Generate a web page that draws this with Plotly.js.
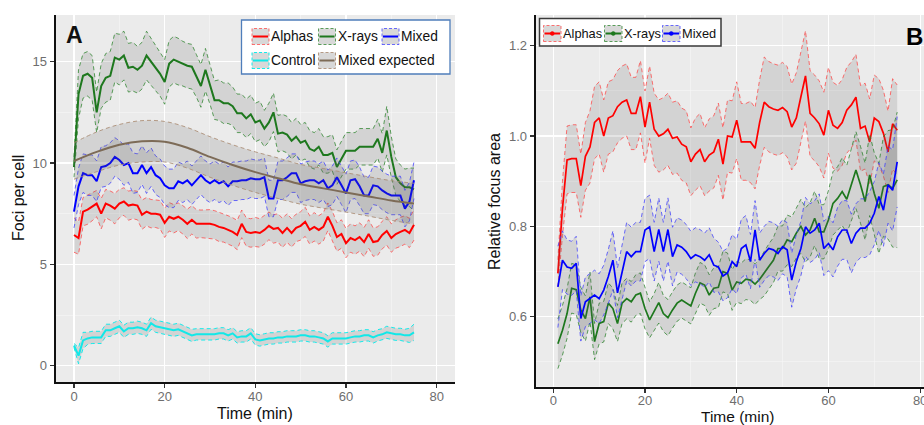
<!DOCTYPE html>
<html>
<head>
<meta charset="utf-8">
<script src="https://cdn.plot.ly/plotly-3.0.1.min.js"></script>
<style>
html,body{margin:0;padding:0;background:#fff;overflow:hidden;width:924px;height:425px;}
#chart{width:940px;height:425px;}
</style>
</head>
<body>
<div id="chart"></div>
<script>
// ---------- Panel A: Foci per cell, time 0..75 min ----------
const timeA = Array.from({length: 76}, (_, i) => i);

const alphasA = [
 6.45,6.3,7.6,7.7,7.85,8.0,7.5,8.0,7.9,7.75,
 8.0,8.1,7.9,7.95,7.9,7.45,7.6,7.5,7.5,7.45,
 7.05,7.35,7.25,7.35,7.2,7.0,7.2,7.0,7.0,7.0,
 7.0,6.95,6.85,6.8,6.7,6.6,6.45,7.0,6.6,6.55,
 6.6,6.55,6.7,6.9,6.75,6.8,6.55,6.8,6.55,6.8,
 6.9,7.1,6.7,6.85,6.7,6.85,7.35,6.9,6.35,6.5,
 6.05,6.3,6.2,6.35,6.1,6.5,6.1,6.15,6.45,6.65,
 6.3,6.5,6.6,6.7,6.55,6.95];
const alphasA_se = [
 0.85,0.8,0.7,0.72,0.7,0.65,0.75,0.7,0.72,0.75,
 0.7,0.68,0.72,0.7,0.7,0.72,0.7,0.7,0.68,0.7,
 0.72,0.7,0.7,0.68,0.7,0.72,0.7,0.7,0.68,0.7,
 0.7,0.7,0.72,0.7,0.7,0.7,0.72,0.68,0.7,0.7,
 0.72,0.7,0.7,0.68,0.7,0.7,0.72,0.7,0.7,0.68,
 0.7,0.72,0.7,0.7,0.7,0.7,0.68,0.72,0.7,0.7,
 0.72,0.7,0.7,0.7,0.72,0.7,0.7,0.7,0.68,0.7,
 0.7,0.7,0.72,0.7,0.72,0.75];

const xraysA = [
 9.8,13.4,14.3,14.4,14.2,12.5,13.8,14.2,14.3,15.2,
 15.1,15.3,14.7,14.75,14.6,14.8,15.3,15.0,14.7,14.4,
 14.0,14.9,15.1,15.0,14.9,14.8,14.75,14.3,13.8,14.6,
 13.9,13.1,13.1,12.95,12.95,12.8,12.45,12.45,12.2,12.4,
 12.0,12.1,11.7,12.0,12.5,11.45,11.5,11.4,11.1,11.3,
 11.0,11.1,10.7,10.6,10.8,10.4,10.4,10.5,9.8,10.2,
 10.6,10.6,10.6,10.8,10.8,10.8,10.8,11.2,10.5,11.6,
 10.3,9.3,9.0,8.8,8.8,8.7];
const xraysA_se = [
 0.5,1.2,1.1,1.1,1.1,1.0,1.1,1.2,1.2,1.2,
 1.25,1.2,1.2,1.2,1.15,1.15,1.2,1.15,1.1,1.1,
 1.1,1.15,1.15,1.15,1.1,1.1,1.1,1.05,1.05,1.05,
 1.0,0.95,1.0,1.0,1.0,0.95,0.95,0.95,0.95,0.95,
 0.95,0.95,0.9,0.95,0.95,0.9,0.9,0.9,0.9,0.9,
 0.9,0.9,0.9,0.9,0.9,0.9,0.9,0.9,0.85,0.85,
 0.9,0.9,0.9,0.9,0.9,0.9,0.9,0.95,0.95,1.2,
 1.0,0.9,0.9,0.9,0.95,1.05];

const mixedA = [
 7.6,8.85,9.5,9.4,9.4,9.1,9.8,9.85,10.0,10.3,
 10.15,9.9,10.0,9.5,9.5,9.9,9.5,9.8,9.4,9.25,
 8.9,8.75,8.75,9.1,9.0,9.15,8.9,9.15,9.4,9.15,
 9.0,9.15,9.0,9.1,8.85,9.1,9.1,9.15,9.15,9.25,
 9.2,9.2,9.3,8.25,8.25,9.15,9.15,9.3,9.5,9.5,
 9.0,9.1,9.15,9.15,9.0,9.15,8.75,8.9,9.3,8.9,
 8.5,9.15,9.2,8.85,8.4,8.4,8.9,8.85,8.65,8.5,
 8.4,8.4,8.4,7.75,8.1,9.15];
const mixedA_se = [
 0.8,0.9,0.95,1.0,1.0,1.0,1.0,1.0,1.0,0.95,
 0.95,1.0,0.95,1.0,0.95,0.95,1.0,0.95,0.95,0.95,
 0.95,0.95,0.95,0.95,0.95,0.95,0.95,0.95,0.95,0.95,
 0.95,0.95,0.95,0.95,0.95,0.95,0.95,0.95,0.95,0.95,
 0.95,0.95,0.95,0.9,0.9,0.95,0.95,0.95,0.95,0.95,
 0.95,0.95,0.95,0.95,0.95,0.95,0.9,0.95,0.95,0.95,
 0.95,0.95,0.95,0.95,0.9,0.9,0.95,0.95,0.95,0.95,
 0.95,0.95,0.95,0.9,0.95,0.9];

const controlA = [
 1.0,0.5,1.25,1.35,1.4,1.4,1.4,1.75,1.75,1.85,
 1.95,1.7,1.85,1.85,1.9,1.85,1.75,2.1,1.95,1.9,
 1.85,1.8,1.75,1.8,1.7,1.6,1.5,1.55,1.55,1.55,
 1.55,1.55,1.6,1.6,1.5,1.6,1.4,1.45,1.45,1.6,
 1.3,1.25,1.3,1.35,1.35,1.4,1.4,1.45,1.45,1.45,
 1.5,1.5,1.45,1.45,1.4,1.35,1.2,1.35,1.35,1.35,
 1.35,1.4,1.45,1.45,1.5,1.5,1.4,1.5,1.55,1.65,
 1.6,1.55,1.55,1.5,1.5,1.65];
const controlA_se = [
 0.1,0.4,0.4,0.3,0.3,0.3,0.3,0.3,0.3,0.3,
 0.3,0.3,0.3,0.3,0.3,0.3,0.3,0.3,0.3,0.3,
 0.3,0.3,0.3,0.3,0.3,0.3,0.3,0.28,0.28,0.28,
 0.28,0.28,0.28,0.28,0.28,0.28,0.28,0.28,0.28,0.28,
 0.28,0.28,0.28,0.28,0.28,0.28,0.28,0.28,0.28,0.28,
 0.28,0.28,0.28,0.28,0.28,0.28,0.28,0.28,0.28,0.28,
 0.28,0.28,0.28,0.28,0.28,0.28,0.28,0.28,0.28,0.3,
 0.3,0.3,0.3,0.3,0.35,0.4];

const timeExp = [0,5,10,15,20,25,30,35,40,45,50,55,60,65,70,75];
const expectedA = [10.1,10.55,10.9,11.07,11.05,10.75,10.3,9.9,9.55,9.25,8.95,8.75,8.55,8.35,8.15,8.0];
const expectedA_se = [0.9,0.98,1.0,1.02,1.0,1.0,1.0,1.0,1.0,1.0,0.98,0.98,0.97,0.97,0.98,1.0];

// ---------- Panel B: Relative focus area, time 1..75 min ----------
const timeB = Array.from({length: 75}, (_, i) => i + 1);

const alphasB = [
 0.696,0.84,0.947,0.95,0.95,0.89,0.955,0.976,1.03,1.04,
 1.0,1.04,1.045,1.065,1.075,1.08,1.05,1.05,1.087,1.02,
 1.075,1.015,1.0,1.005,1.015,0.995,0.998,0.982,0.976,0.943,
 0.96,0.97,0.943,0.958,0.965,0.993,0.938,1.0,0.998,1.035,
 0.987,0.987,0.987,0.973,1.03,1.075,1.065,1.06,1.057,1.063,
 1.054,1.02,1.04,1.087,1.133,1.05,1.04,1.027,1.002,1.057,
 1.024,1.017,1.03,1.057,1.069,1.086,1.017,1.022,0.987,1.04,
 1.032,1.006,0.965,1.027,1.013];
const alphasB_se = [
 0.03,0.06,0.075,0.075,0.075,0.07,0.075,0.08,0.08,0.08,
 0.08,0.08,0.08,0.08,0.08,0.08,0.08,0.08,0.08,0.08,
 0.08,0.08,0.08,0.08,0.08,0.08,0.08,0.08,0.08,0.075,
 0.08,0.08,0.075,0.08,0.08,0.08,0.08,0.08,0.08,0.085,
 0.085,0.085,0.09,0.09,0.095,0.1,0.1,0.1,0.1,0.1,
 0.1,0.095,0.1,0.1,0.1,0.095,0.095,0.095,0.095,0.095,
 0.095,0.095,0.095,0.095,0.095,0.095,0.095,0.095,0.095,0.095,
 0.095,0.095,0.09,0.1,0.1];

const xraysB = [
 0.54,0.57,0.607,0.663,0.66,0.615,0.596,0.644,0.545,0.585,
 0.589,0.63,0.618,0.585,0.63,0.64,0.633,0.648,0.652,0.618,
 0.593,0.611,0.631,0.607,0.598,0.615,0.63,0.637,0.63,0.624,
 0.652,0.675,0.67,0.648,0.663,0.665,0.7,0.696,0.659,0.677,
 0.674,0.683,0.681,0.672,0.683,0.696,0.711,0.725,0.751,0.751,
 0.77,0.766,0.785,0.8,0.781,0.792,0.818,0.788,0.788,0.814,
 0.851,0.862,0.877,0.86,0.892,0.925,0.892,0.855,0.914,0.873,
 0.84,0.888,0.892,0.884,0.903];
const xraysB_se = [
 0.055,0.055,0.055,0.055,0.055,0.05,0.05,0.055,0.04,0.045,
 0.045,0.045,0.045,0.04,0.045,0.045,0.045,0.045,0.045,0.045,
 0.04,0.04,0.045,0.04,0.04,0.04,0.04,0.04,0.04,0.04,
 0.045,0.045,0.045,0.045,0.045,0.045,0.045,0.045,0.045,0.045,
 0.045,0.045,0.045,0.045,0.045,0.05,0.05,0.05,0.05,0.05,
 0.055,0.055,0.055,0.06,0.06,0.06,0.06,0.06,0.06,0.065,
 0.07,0.07,0.075,0.075,0.08,0.085,0.085,0.085,0.09,0.09,
 0.1,0.11,0.12,0.13,0.15];

const mixedB = [
 0.666,0.725,0.71,0.707,0.718,0.596,0.633,0.64,0.648,0.64,
 0.659,0.689,0.725,0.653,0.696,0.744,0.733,0.744,0.744,0.792,
 0.799,0.744,0.793,0.744,0.793,0.733,0.759,0.754,0.744,0.729,
 0.737,0.733,0.725,0.737,0.714,0.71,0.69,0.697,0.722,0.711,
 0.751,0.759,0.722,0.792,0.725,0.74,0.751,0.748,0.74,0.755,
 0.748,0.681,0.722,0.751,0.799,0.785,0.792,0.807,0.751,0.762,
 0.748,0.777,0.792,0.792,0.762,0.785,0.796,0.796,0.807,0.829,
 0.866,0.836,0.892,0.88,0.943];
const mixedB_se = [
 0.09,0.065,0.06,0.06,0.06,0.05,0.055,0.055,0.055,0.055,
 0.055,0.06,0.065,0.055,0.06,0.065,0.065,0.065,0.065,0.07,
 0.07,0.065,0.07,0.065,0.07,0.065,0.06,0.06,0.06,0.06,
 0.06,0.06,0.06,0.06,0.06,0.055,0.055,0.055,0.06,0.06,
 0.065,0.065,0.06,0.065,0.06,0.06,0.06,0.06,0.06,0.06,
 0.06,0.06,0.06,0.06,0.065,0.065,0.065,0.065,0.06,0.06,
 0.06,0.065,0.065,0.065,0.065,0.065,0.065,0.065,0.07,0.07,
 0.075,0.08,0.085,0.09,0.1];

// ---------- styling ----------
const W = 940, H = 425;
const FONT = 'Liberation Sans, Arial, Helvetica, sans-serif';
const FILL = 'rgba(95,95,95,0.17)';
const COL = {
  alphas:  {line:'#FF0000', dash:'rgba(255,70,70,0.75)'},
  xrays:   {line:'#1E781E', dash:'rgba(40,130,40,0.75)'},
  mixed:   {line:'#0000FF', dash:'rgba(60,60,255,0.75)'},
  control: {line:'#12E8E8', dash:'rgba(0,235,235,0.9)'},
  expect:  {line:'#7D6B57', dash:'rgba(170,140,115,0.85)'}
};

const traces = [];
function band(x, m, se, c, lw, xa, ya, shape) {
  const lo = m.map((v, i) => +(v - se[i]).toFixed(4));
  const hi = m.map((v, i) => +(v + se[i]).toFixed(4));
  const common = {x: x, xaxis: xa, yaxis: ya, type: 'scatter', mode: 'lines', hoverinfo: 'skip', showlegend: false};
  traces.push(Object.assign({}, common, {y: lo, line: {color: c.dash, width: 1, dash: '4px,3px', shape: shape}}));
  traces.push(Object.assign({}, common, {y: hi, fill: 'tonexty', fillcolor: FILL, line: {color: c.dash, width: 1, dash: '4px,3px', shape: shape}}));
  traces.push(Object.assign({}, common, {y: m, line: {color: c.line, width: lw, shape: shape}}));
}

band(timeA, alphasA, alphasA_se, COL.alphas, 2, 'x', 'y', 'linear');
band(timeA, xraysA, xraysA_se, COL.xrays, 2, 'x', 'y', 'linear');
band(timeA, mixedA, mixedA_se, COL.mixed, 2, 'x', 'y', 'linear');
band(timeA, controlA, controlA_se, COL.control, 2, 'x', 'y', 'linear');
band(timeExp, expectedA, expectedA_se, COL.expect, 2, 'x', 'y', 'spline');

band(timeB, alphasB, alphasB_se, COL.alphas, 1.7, 'x2', 'y2', 'linear');
band(timeB, xraysB, xraysB_se, COL.xrays, 1.7, 'x2', 'y2', 'linear');
band(timeB, mixedB, mixedB_se, COL.mixed, 1.7, 'x2', 'y2', 'linear');

const px = v => v / W;
const py = v => 1 - v / H;

function axisX(domL, domR, range) {
  return {
    domain: [px(domL), px(domR)], range: range, tickvals: [0, 20, 40, 60, 80],
    showgrid: true, gridcolor: '#FFFFFF', gridwidth: 1.2,
    minor: {tickvals: [10, 30, 50, 70], showgrid: true, gridcolor: '#F7F7F7', gridwidth: 0.6, ticks: ''},
    showline: true, linecolor: '#111', linewidth: 2, mirror: false,
    ticks: 'outside', ticklen: 4, tickwidth: 1.1, tickcolor: '#333', ticklabelstandoff: -3,
    tickfont: {family: FONT, size: 13, color: '#6E6E6E'}, zeroline: false, fixedrange: true
  };
}
function axisY(domB, domT, range, vals, minorVals, fmt) {
  return {
    domain: [py(domB), py(domT)], range: range, tickvals: vals, tickformat: fmt,
    showgrid: true, gridcolor: '#FFFFFF', gridwidth: 1.2,
    minor: {tickvals: minorVals, showgrid: true, gridcolor: '#F7F7F7', gridwidth: 0.6, ticks: ''},
    showline: true, linecolor: '#111', linewidth: 2, mirror: false,
    ticks: 'outside', ticklen: 4, tickwidth: 1.1, tickcolor: '#333',
    tickfont: {family: FONT, size: 13, color: '#6E6E6E'}, zeroline: false, fixedrange: true
  };
}

const xa = axisX(55.5, 455, [-4.08, 84.05]); xa.anchor = 'y';
const ya = axisY(382, 15, [-0.8, 17.3], [0, 5, 10, 15], [2.5, 7.5, 12.5], ''); ya.anchor = 'x';
const xb = axisX(535.7, 938, [-3.84, 83.9]); xb.anchor = 'y2';
const yb = axisY(386.7, 15, [0.445, 1.268], [0.6, 0.8, 1.0, 1.2], [0.5, 0.7, 0.9, 1.1], '.1f'); yb.anchor = 'x2';

const shapes = [];
const annotations = [];
function txt(x, y, t, size, opts) {
  annotations.push(Object.assign({xref: 'paper', yref: 'paper', x: px(x), y: py(y), text: t, showarrow: false,
    xanchor: 'left', yanchor: 'middle', borderpad: 0, font: {family: FONT, size: size, color: '#111'}}, opts || {}));
}
function key(x0, x1, y0, y1, c, withDot) {
  shapes.push({type: 'rect', xref: 'paper', yref: 'paper', x0: px(x0), x1: px(x1), y0: py(y1), y1: py(y0),
    fillcolor: '#D8D8D8', line: {color: c.dash, width: 1, dash: '3px,2px'}});
  const ym = (y0 + y1) / 2;
  shapes.push({type: 'line', xref: 'paper', yref: 'paper', x0: px(x0 + 1), x1: px(x1 - 1), y0: py(ym), y1: py(ym),
    line: {color: c.line, width: 2}});
  if (withDot) {
    shapes.push({type: 'circle', xref: 'paper', yref: 'paper', x0: px((x0 + x1) / 2 - 2), x1: px((x0 + x1) / 2 + 2),
      y0: py(ym + 2), y1: py(ym - 2), fillcolor: c.line, line: {color: c.line, width: 0.5}});
  }
}

// Legend A
const legA = [['Alphas', COL.alphas], ['X-rays', COL.xrays], ['Mixed', COL.mixed], ['Control', COL.control], ['Mixed expected', COL.expect]];
shapes.push({type: 'rect', xref: 'paper', yref: 'paper', x0: px(241.5), x1: px(450), y0: py(74), y1: py(20),
  fillcolor: '#FFFFFF', line: {color: '#4F7EBB', width: 1.3}});
const legAPos = [[252, 36.5], [318.5, 36.5], [382, 36.5], [252, 60.5], [318.5, 60.5]];
legA.forEach((it, i) => {
  const [kx, ky] = legAPos[i];
  key(kx, kx + 17, ky - 8, ky + 8, it[1], false);
  txt(kx + 18, ky, it[0], 13.8);
});

// Legend B
const legB = [['Alphas', COL.alphas], ['X-rays', COL.xrays], ['Mixed', COL.mixed]];
shapes.push({type: 'rect', xref: 'paper', yref: 'paper', x0: px(539.5), x1: px(721), y0: py(46), y1: py(18.5),
  fillcolor: '#FFFFFF', line: {color: '#3A3A3A', width: 1.5}});
const legBPos = [543.5, 604.5, 662.5];
legB.forEach((it, i) => {
  const kx = legBPos[i];
  key(kx, kx + 17.5, 25.5, 41.5, it[1], true);
  txt(kx + 18.5, 33.5, it[0], 12.8);
});

// Panel letters
txt(74, 35, '<b>A</b>', 23, {xanchor: 'center'});
txt(905, 37, '<b>B</b>', 24, {font: {family: 'Liberation Sans, Arial, sans-serif', size: 24, color: '#000'}});

// Axis titles
txt(255, 413, 'Time (min)', 16, {xanchor: 'center'});
txt(737, 416.5, 'Time (min)', 15.5, {xanchor: 'center'});
txt(18.5, 198.5, 'Foci per cell', 16, {xanchor: 'center', textangle: -90});
txt(495, 201, 'Relative focus area', 16, {xanchor: 'center', textangle: -90});

const layout = {
  width: W, height: H, margin: {l: 0, r: 0, t: 0, b: 0},
  paper_bgcolor: '#FFFFFF', plot_bgcolor: '#EBEBEB',
  showlegend: false,
  xaxis: xa, yaxis: ya, xaxis2: xb, yaxis2: yb,
  shapes: shapes, annotations: annotations,
  font: {family: FONT}
};

Plotly.newPlot('chart', traces, layout, {staticPlot: true, displayModeBar: false});
</script>
</body>
</html>
